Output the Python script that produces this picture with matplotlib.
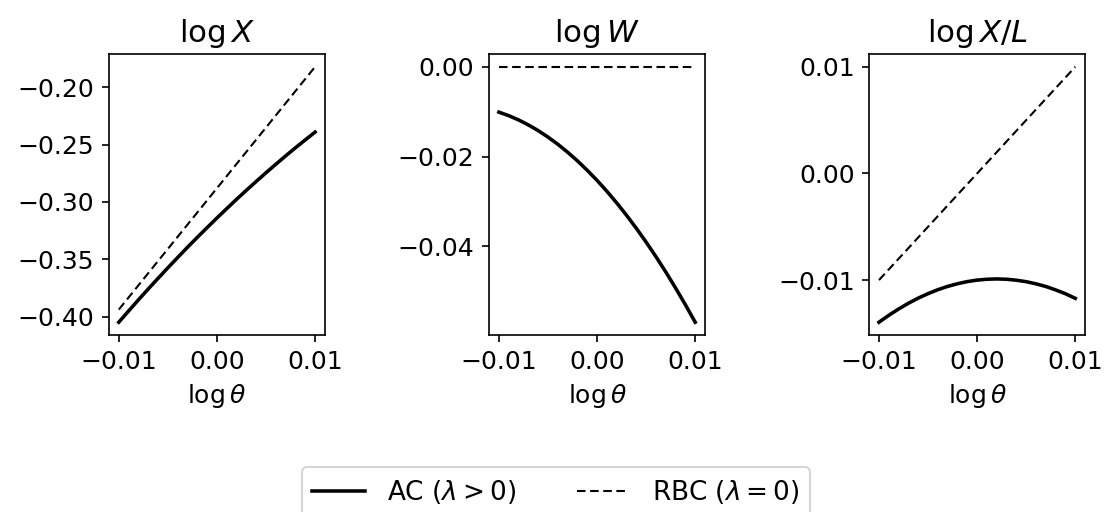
import matplotlib
matplotlib.use("Agg")
import matplotlib.pyplot as plt

# log theta grid (21 points)
log_theta = [-0.010, -0.009, -0.008, -0.007, -0.006, -0.005, -0.004, -0.003, -0.002, -0.001, 0.000,
             0.001, 0.002, 0.003, 0.004, 0.005, 0.006, 0.007, 0.008, 0.009, 0.010]

# AC (lambda > 0)
ac_log_x = [-0.4050, -0.3952, -0.3855, -0.3760, -0.3667, -0.3575, -0.3485, -0.3396, -0.3309, -0.3224, -0.3140,
            -0.3058, -0.2977, -0.2898, -0.2821, -0.2745, -0.2671, -0.2598, -0.2527, -0.2458, -0.2390]
ac_log_w = [-0.01010, -0.01088, -0.01183, -0.01294, -0.01421, -0.01565, -0.01725, -0.01902, -0.02095, -0.02304, -0.02530,
            -0.02772, -0.03031, -0.03306, -0.03597, -0.03905, -0.04229, -0.04570, -0.04927, -0.05300, -0.05690]
ac_log_xl = [-0.01395, -0.01330, -0.01271, -0.01217, -0.01169, -0.01127, -0.01090, -0.01059, -0.01034, -0.01014, -0.01000,
             -0.00992, -0.00989, -0.00992, -0.01001, -0.01015, -0.01035, -0.01060, -0.01092, -0.01128, -0.01171]

# RBC (lambda = 0)
rbc_log_x = [-0.3940, -0.3834, -0.3728, -0.3622, -0.3516, -0.3410, -0.3304, -0.3198, -0.3092, -0.2986, -0.2880,
             -0.2774, -0.2668, -0.2562, -0.2456, -0.2350, -0.2244, -0.2138, -0.2032, -0.1926, -0.1820]
rbc_log_w = [0.0] * 21
rbc_log_xl = [-0.010, -0.009, -0.008, -0.007, -0.006, -0.005, -0.004, -0.003, -0.002, -0.001, 0.000,
              0.001, 0.002, 0.003, 0.004, 0.005, 0.006, 0.007, 0.008, 0.009, 0.010]

titles = [r"$\log X$", r"$\log W$", r"$\log X/L$"]
ac_series = [ac_log_x, ac_log_w, ac_log_xl]
rbc_series = [rbc_log_x, rbc_log_w, rbc_log_xl]
yticks = [[-0.40, -0.35, -0.30, -0.25, -0.20], [-0.04, -0.02, 0.00], [-0.01, 0.00, 0.01]]

plt.rcParams["font.size"] = 12

fig, axes = plt.subplots(1, 3, figsize=(1105 / 150, 512 / 150), dpi=150)
fig.subplots_adjust(left=0.0986, right=0.982, bottom=0.3457, top=0.8945, wspace=0.76)

for ax, title, ac, rbc, yt in zip(axes, titles, ac_series, rbc_series, yticks):
    ax.plot(log_theta, ac, color="black", lw=1.7, label=r"AC ($\lambda > 0$)")
    ax.plot(log_theta, rbc, color="black", lw=1.0, ls=(0, (4.1, 2.2)), label=r"RBC ($\lambda = 0$)")
    ax.set_title(title, fontsize=14.8)
    ax.set_xlabel(r"$\log\theta$")
    ax.set_xticks([-0.01, 0.00, 0.01])
    ax.set_yticks(yt)

handles, labels = axes[0].get_legend_handles_labels()
fig.legend(handles, labels, loc="lower center", ncol=2, bbox_to_anchor=(0.503, -0.034),
           fontsize=12.6, handlelength=2.0, handletextpad=0.85, columnspacing=2.3)

fig.savefig("out.png", dpi=150)
